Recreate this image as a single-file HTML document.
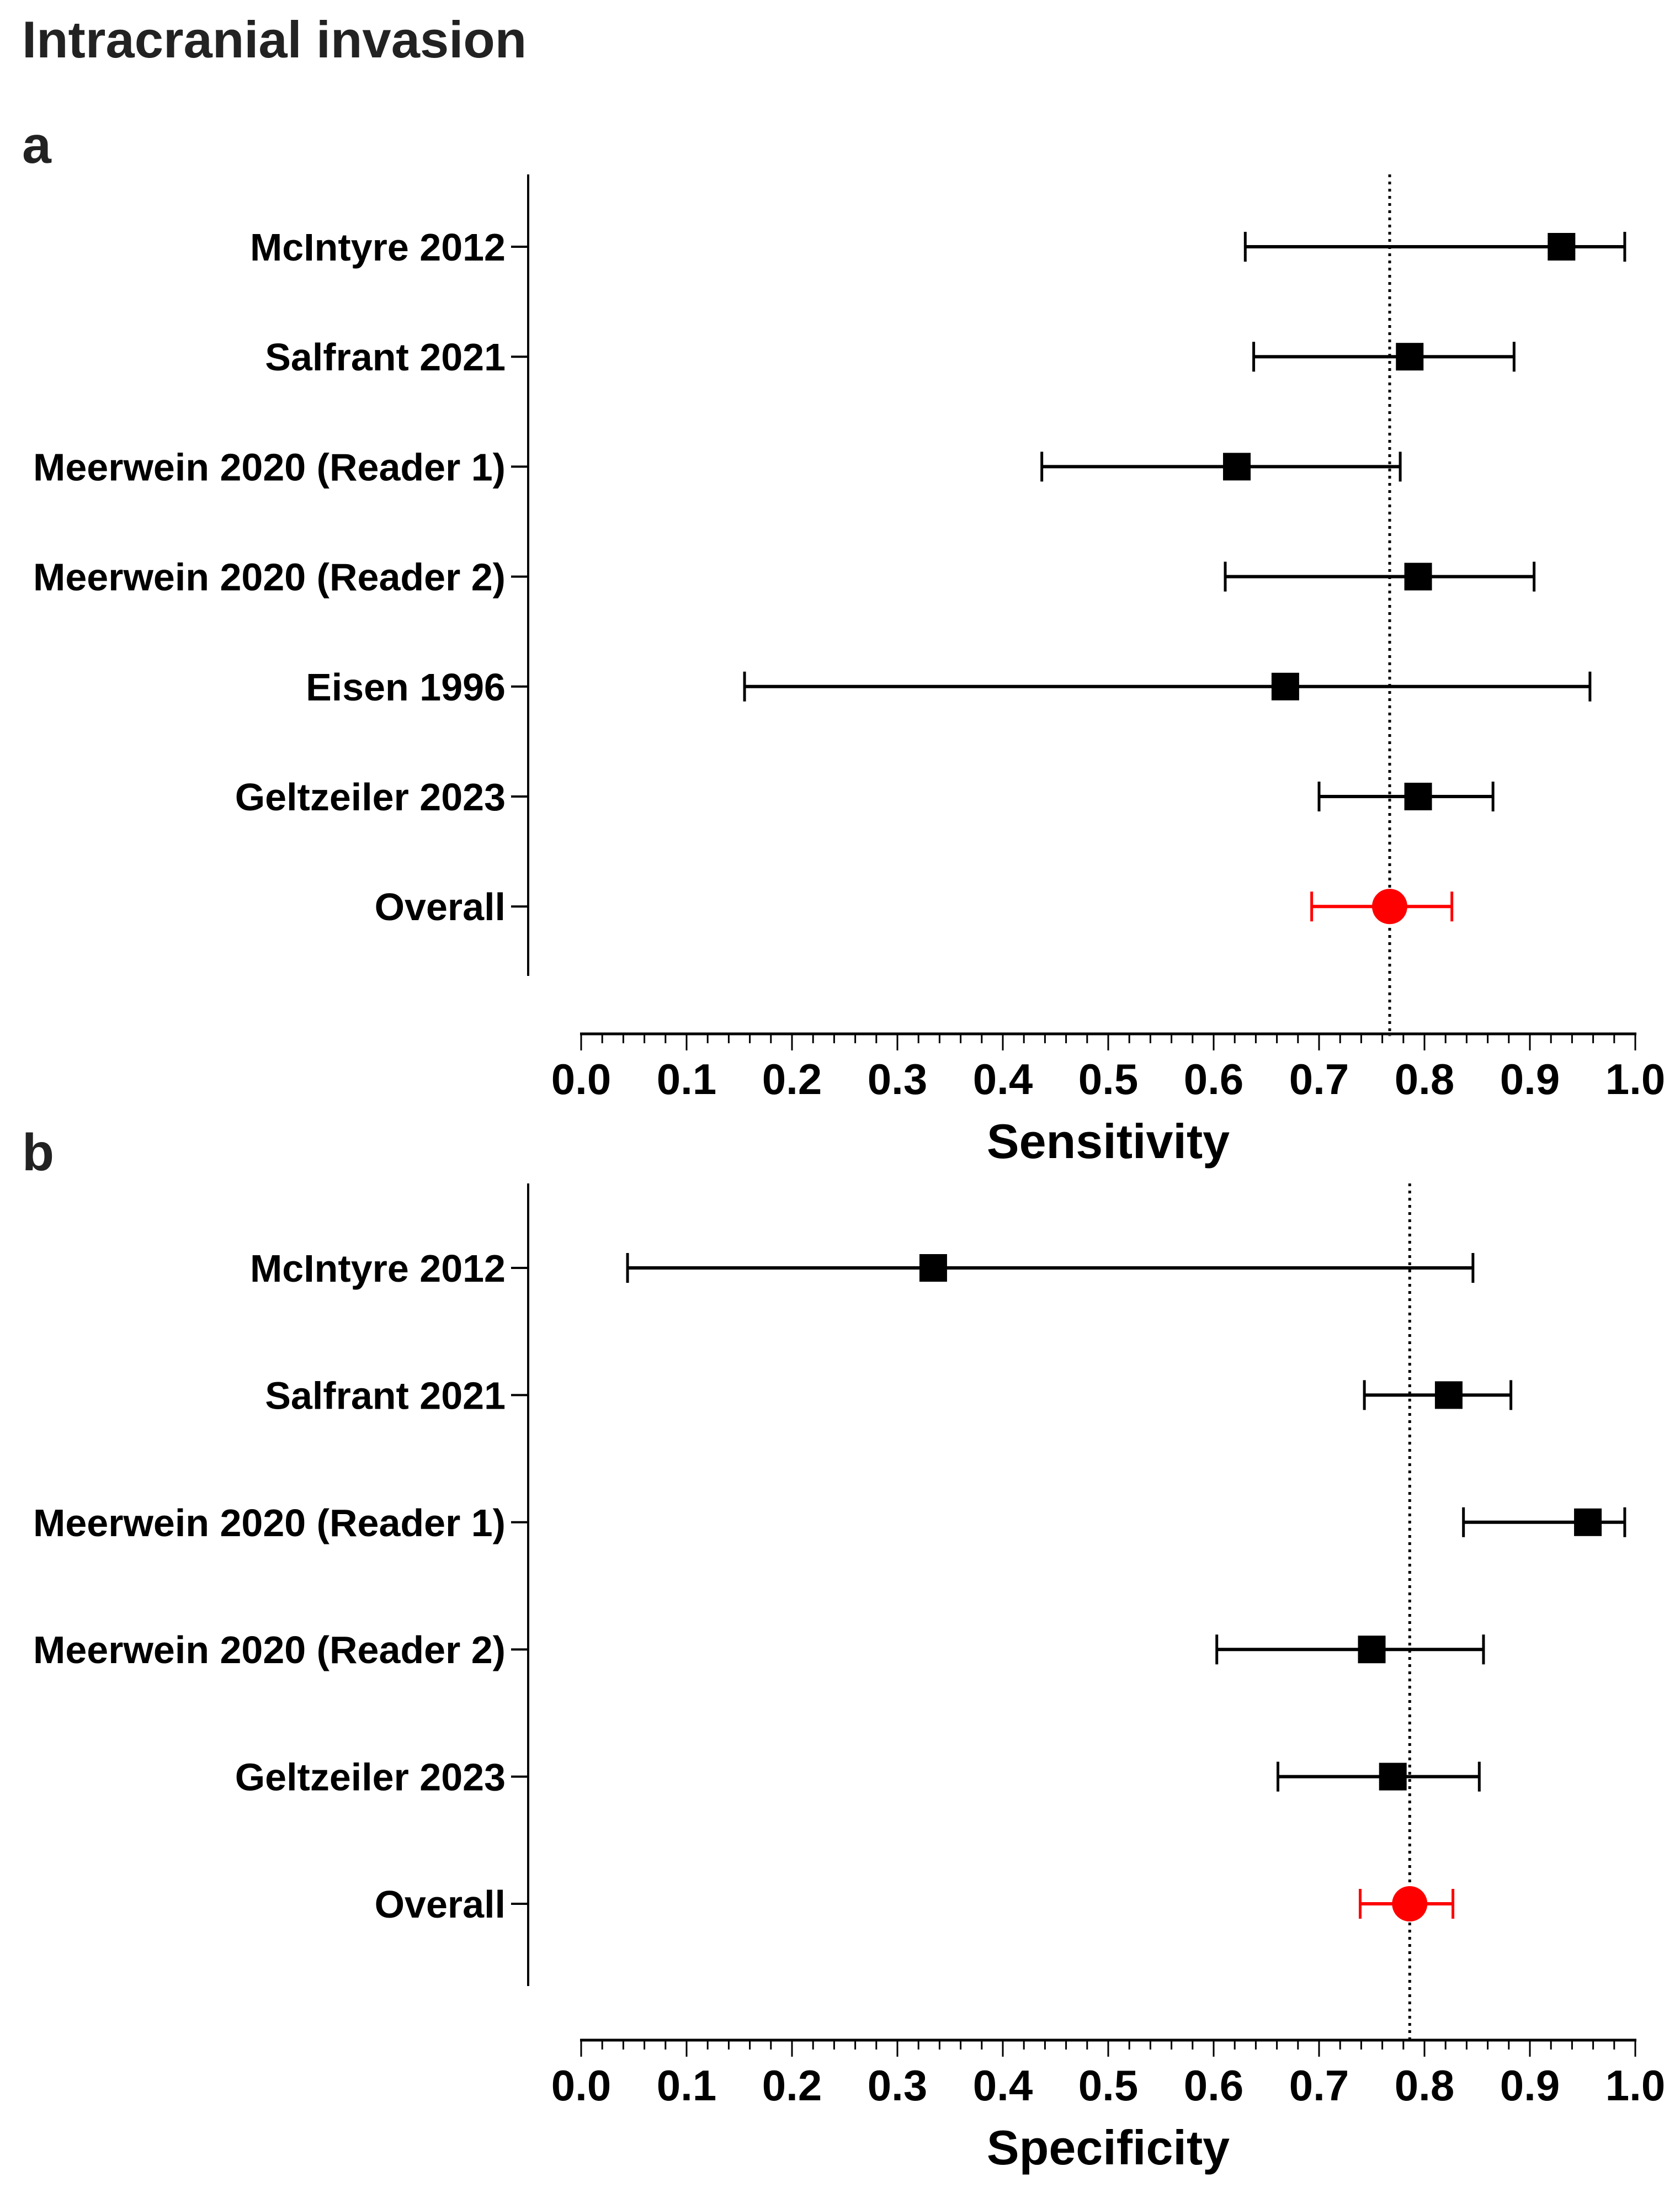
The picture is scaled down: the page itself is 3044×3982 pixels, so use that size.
<!DOCTYPE html>
<html><head><meta charset="utf-8"><style>
html,body{margin:0;padding:0;background:#fff;}
svg{display:block;font-family:"Liberation Sans",sans-serif;font-weight:bold;}
</style></head><body>
<svg id="chart" width="3044" height="3982" viewBox="0 0 3044 3982" xmlns="http://www.w3.org/2000/svg">
<text x="40" y="104" font-size="94" fill="#222">Intracranial invasion</text>
<text x="40" y="295" font-size="95" fill="#222">a</text>
<text x="40" y="2120" font-size="95" fill="#222">b</text>
</svg>
<script>
const studiesA = ["McIntyre 2012","Salfrant 2021","Meerwein 2020 (Reader 1)","Meerwein 2020 (Reader 2)","Eisen 1996","Geltzeiler 2023","Overall"];
const sensPoint = [0.930,0.786,0.622,0.794,0.668,0.794,0.767];
const sensLow   = [0.630,0.638,0.437,0.611,0.155,0.700,0.693];
const sensHigh  = [0.990,0.885,0.777,0.904,0.957,0.865,0.826];
const sensPooled = 0.767;

const studiesB = ["McIntyre 2012","Salfrant 2021","Meerwein 2020 (Reader 1)","Meerwein 2020 (Reader 2)","Geltzeiler 2023","Overall"];
const specPoint = [0.334,0.823,0.955,0.750,0.770,0.786];
const specLow   = [0.044,0.743,0.837,0.603,0.661,0.739];
const specHigh  = [0.846,0.882,0.990,0.856,0.852,0.827];
const specPooled = 0.786;

const tickLabels = ["0.0","0.1","0.2","0.3","0.4","0.5","0.6","0.7","0.8","0.9","1.0"];

const NS = "http://www.w3.org/2000/svg";
const svg = document.getElementById("chart");
function mk(tag, attrs, parent){
  const e = document.createElementNS(NS, tag);
  for (const k in attrs) e.setAttribute(k, attrs[k]);
  (parent||svg).appendChild(e);
  return e;
}
const X0 = 1053, X1 = 2963;
function xScale(v){ return X0 + v*(X1-X0); }

function panel(cfg){
  const g = mk("g", {});
  
  
  const n = cfg.studies.length;
  function yScale(i){ return cfg.yFirst + i*cfg.step; }
  // y axis
  const ya = mk("line", {x1:957,y1:cfg.axTop,x2:957,y2:cfg.axBottom,stroke:"#000","stroke-width":4}, g);
  
  
  // reference line
  const ref = mk("line", {x1:xScale(cfg.pooled),y1:cfg.axTop,x2:xScale(cfg.pooled),y2:cfg.xAxisY+4,stroke:"#000","stroke-width":5,"stroke-dasharray":"5,8"}, g);
  
  
  for (let i=0;i<n;i++){
    const y = yScale(i);
    const isOverall = cfg.studies[i]==="Overall";
    const col = isOverall ? "#ff0000" : "#000";
    const tk = mk("line", {x1:926,y1:y,x2:957,y2:y,stroke:"#000","stroke-width":4}, g);
    
    
    const lb = mk("text", {x:916,y:y+25,"text-anchor":"end","font-size":70,fill:"#000"}, g);
    lb.textContent = cfg.studies[i];
    
    
    const xl = xScale(cfg.low[i]), xh = xScale(cfg.high[i]), xp = xScale(cfg.point[i]);
    const ci = mk("line", {x1:xl,y1:y,x2:xh,y2:y,stroke:col,"stroke-width":6}, g);
    
    
    const c1 = mk("line", {x1:xl,y1:y-27,x2:xl,y2:y+27,stroke:col,"stroke-width":5}, g);
    
    
    const c2 = mk("line", {x1:xh,y1:y-27,x2:xh,y2:y+27,stroke:col,"stroke-width":5}, g);
    
    
    if (isOverall){
      const m = mk("circle", {cx:xp,cy:y,r:32,fill:"#ff0000"}, g);
      
      
    } else {
      const m = mk("rect", {x:xp-25,y:y-25,width:50,height:50,fill:"#000"}, g);
      
      
    }
  }
  // x axis
  const xa = mk("line", {x1:X0-2,y1:cfg.xAxisY,x2:X1+2,y2:cfg.xAxisY,stroke:"#000","stroke-width":5}, g);
  
  
  for (let k=0;k<=50;k++){
    const v = k/50, major = k%5===0;
    const t = mk("line", {x1:xScale(v),y1:cfg.xAxisY,x2:xScale(v),y2:cfg.xAxisY+(major?30:17),stroke:"#000","stroke-width":3}, g);
    
    
  }
  tickLabels.forEach((s,j)=>{
    const t = mk("text", {x:xScale(parseFloat(s)),y:cfg.xAxisY+109,"text-anchor":"middle","font-size":78,fill:"#000"}, g);
    t.textContent = s;
    
    
  });
  const tt = mk("text", {x:2008,y:cfg.xAxisY+225,"text-anchor":"middle","font-size":88,fill:"#000"}, g);
  tt.textContent = cfg.title;
  
  
}

panel({name:"panel-a-sensitivity", studies:studiesA, point:sensPoint, low:sensLow, high:sensHigh, pooled:sensPooled,
  yFirst:447, step:199.2, axTop:316, axBottom:1768, xAxisY:1873, title:"Sensitivity"});
panel({name:"panel-b-specificity", studies:studiesB, point:specPoint, low:specLow, high:specHigh, pooled:specPooled,
  yFirst:2297, step:230.4, axTop:2144, axBottom:3598, xAxisY:3696, title:"Specificity"});
</script>
</body></html>
